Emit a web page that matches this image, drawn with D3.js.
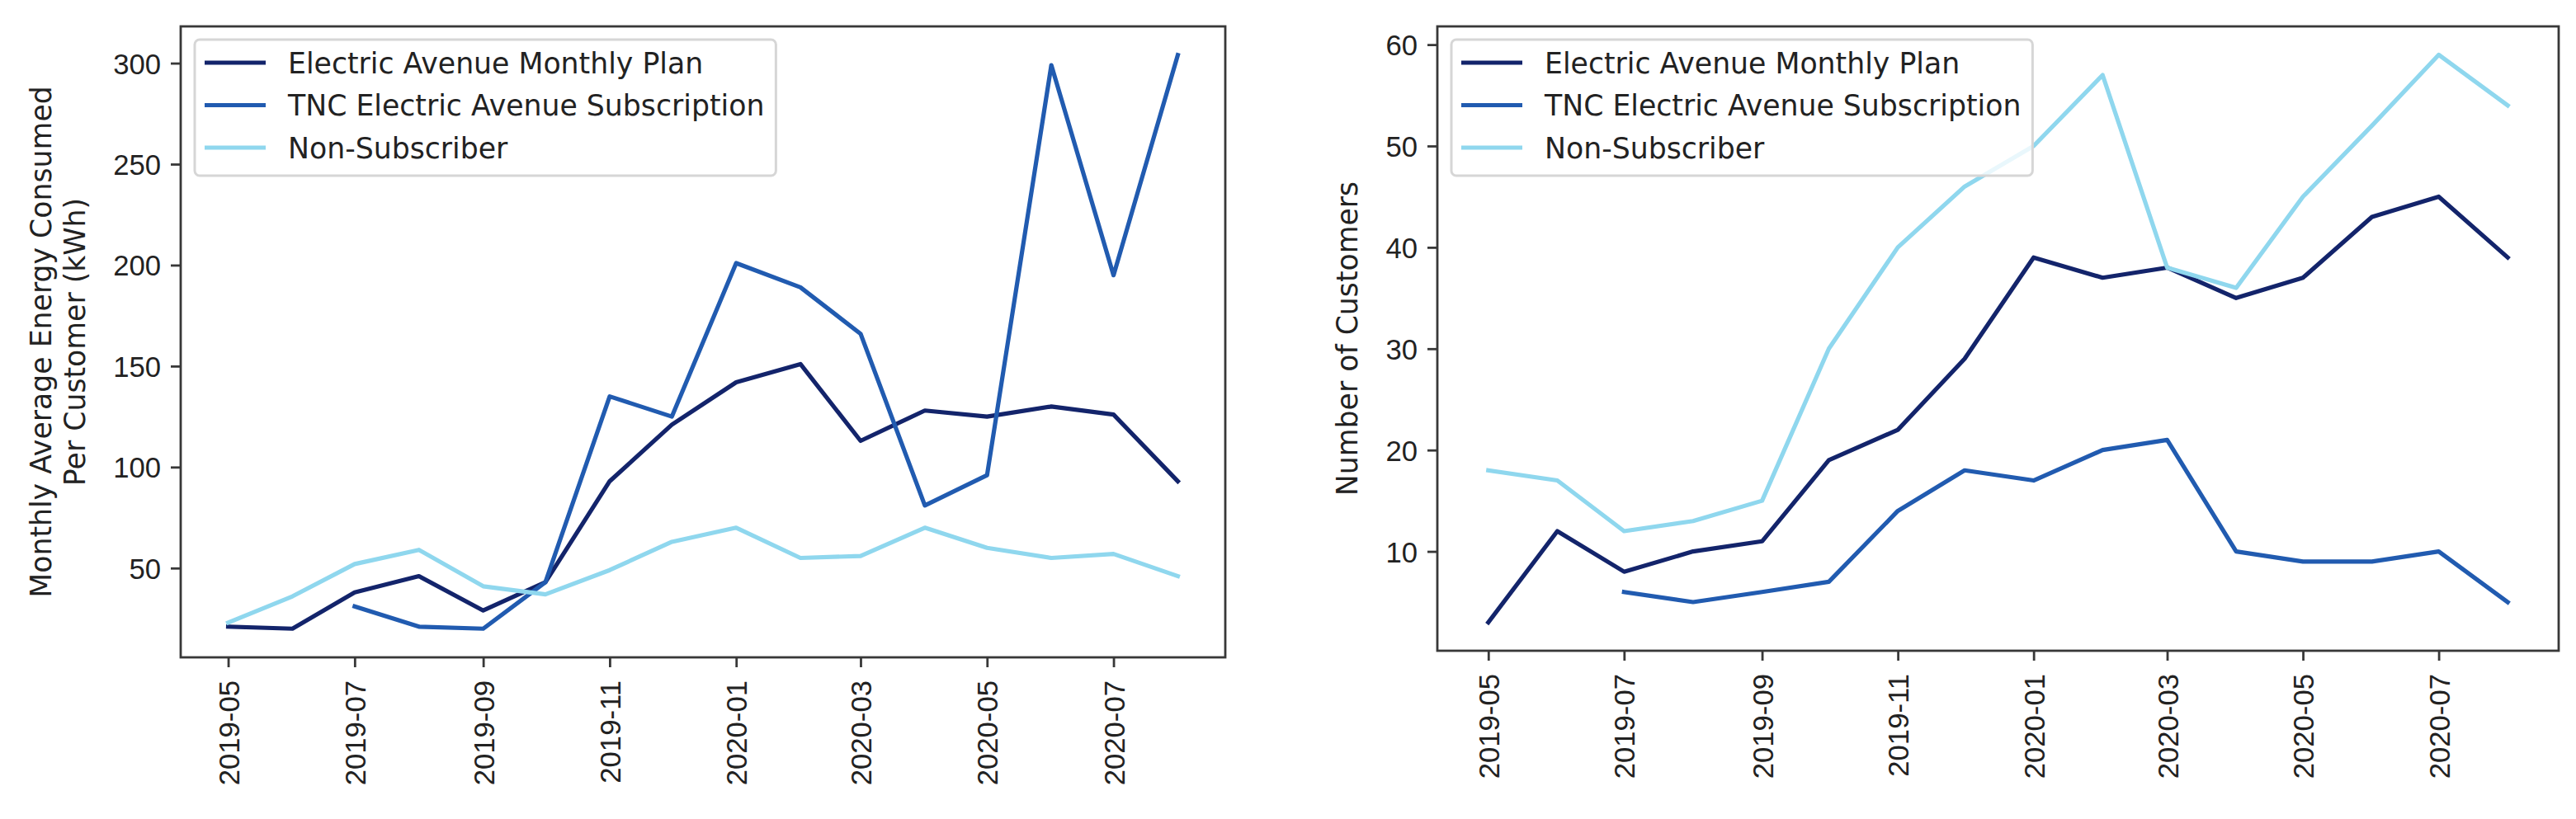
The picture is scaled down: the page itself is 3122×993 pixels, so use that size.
<!DOCTYPE html>
<html>
<head>
<meta charset="utf-8">
<script src="https://cdn.jsdelivr.net/npm/d3@7"></script>
<style>
  html, body { margin: 0; padding: 0; background: #fff; }
  svg { display: block; font-family: "DejaVu Sans", sans-serif; }
</style>
</head>
<body>
<div id="chart"></div>
<script>
// months on the x axis (one point per month)
const months = [
  "2019-05", "2019-06", "2019-07", "2019-08", "2019-09", "2019-10", "2019-11", "2019-12",
  "2020-01", "2020-02", "2020-03", "2020-04", "2020-05", "2020-06", "2020-07", "2020-08",
];
const xTickMonths = ["2019-05", "2019-07", "2019-09", "2019-11", "2020-01", "2020-03", "2020-05", "2020-07"];

const seriesNames = [
  "Electric Avenue Monthly Plan",
  "TNC Electric Avenue Subscription",
  "Non-Subscriber",
];
const seriesColors = ["#13246b", "#215bb0", "#8fd7ee"];

// left panel: monthly average energy per customer (kWh)
const energyMonthlyPlan = [21, 20, 38, 46, 29, 43, 93, 121, 142, 151, 113, 128, 125, 130, 126, 93];
const energyTnc = [null, null, 31, 21, 20, 43, 135, 125, 201, 189, 166, 81, 96, 299, 195, 304];
const energyNonSubscriber = [23, 36, 52, 59, 41, 37, 49, 63, 70, 55, 56, 70, 60, 55, 57, 46];
const energyTicks = [50, 100, 150, 200, 250, 300];

// right panel: number of customers
const customersMonthlyPlan = [3, 12, 8, 10, 11, 19, 22, 29, 39, 37, 38, 35, 37, 43, 45, 39];
const customersTnc = [null, null, 6, 5, 6, 7, 14, 18, 17, 20, 21, 10, 9, 9, 10, 5];
const customersNonSubscriber = [18, 17, 12, 13, 15, 30, 40, 46, 50, 57, 38, 36, 45, 52, 59, 54];
const customerTicks = [10, 20, 30, 40, 50, 60];

const FS = 34.7; // 10pt at the figure's dpi
const parseMonth = d3.utcParse("%Y-%m");

class LinePanel {
  constructor({ svg, frame, series, yTicks, yLabel, yLabelX }) {
    this.svg = svg;
    this.frame = frame;
    this.series = series;
    this.yTicks = yTicks;
    this.yLabel = yLabel;
    this.yLabelX = yLabelX;
    this.init();
  }

  init() {
    const { left, right, top, bottom } = this.frame;
    this.dates = months.map(parseMonth);

    // matplotlib style 5% margins on both axes
    const t0 = +this.dates[0];
    const t1 = +this.dates[this.dates.length - 1];
    const tp = (t1 - t0) * 0.05;
    this.x = d3.scaleUtc().domain([t0 - tp, t1 + tp]).range([left, right]);

    const all = this.series.flatMap((s) => s.values.filter((v) => v != null));
    const [v0, v1] = d3.extent(all);
    const vp = (v1 - v0) * 0.05;
    this.y = d3.scaleLinear().domain([v0 - vp, v1 + vp]).range([bottom, top]);

    this.line = d3
      .line()
      .defined((d) => d != null)
      .x((d, i) => this.x(this.dates[i]))
      .y((d) => this.y(d));

    this.g = this.svg.append("g");
    this.render();
  }

  render() {
    this.renderLines();
    this.renderFrame();
    this.renderXAxis();
    this.renderYAxis();
    this.renderLegend();
  }

  renderLines() {
    this.g
      .append("g")
      .selectAll("path")
      .data(this.series)
      .join("path")
      .attr("fill", "none")
      .attr("stroke", (d) => d.color)
      .attr("stroke-width", 5.2)
      .attr("stroke-linejoin", "round")
      .attr("stroke-linecap", "square")
      .attr("d", (d) => this.line(d.values));
  }

  renderFrame() {
    const { left, right, top, bottom } = this.frame;
    this.g
      .append("rect")
      .attr("x", left)
      .attr("y", top)
      .attr("width", right - left)
      .attr("height", bottom - top)
      .attr("fill", "none")
      .attr("stroke", "#383838")
      .attr("stroke-width", 2.8);
  }

  renderXAxis() {
    const gX = this.g
      .append("g")
      .attr("transform", `translate(0,${this.frame.bottom})`)
      .call(
        d3
          .axisBottom(this.x)
          .tickValues(xTickMonths.map(parseMonth))
          .tickFormat(d3.utcFormat("%Y-%m"))
          .tickSize(12)
          .tickPadding(12)
      );
    gX.select(".domain").remove();
    gX.selectAll(".tick line").attr("stroke", "#383838").attr("stroke-width", 2.8);
    gX.selectAll(".tick text")
      .attr("fill", "#222")
      .attr("font-size", FS)
      .attr("text-anchor", "end")
      .attr("transform", "rotate(-90)")
      .attr("x", -28)
      .attr("y", 0)
      .attr("dy", "0.36em");
  }

  renderYAxis() {
    const gY = this.g
      .append("g")
      .attr("transform", `translate(${this.frame.left},0)`)
      .call(d3.axisLeft(this.y).tickValues(this.yTicks).tickSize(12).tickPadding(12));
    gY.select(".domain").remove();
    gY.selectAll(".tick line").attr("stroke", "#383838").attr("stroke-width", 2.8);
    gY.selectAll(".tick text").attr("fill", "#222").attr("font-size", FS).attr("dy", "0.36em");

    const yc = (this.frame.top + this.frame.bottom) / 2;
    this.g
      .append("text")
      .attr("fill", "#222")
      .attr("font-size", FS)
      .attr("text-anchor", "middle")
      .attr("transform", `translate(${this.yLabelX},${yc}) rotate(-90)`)
      .selectAll("tspan")
      .data(this.yLabel)
      .join("tspan")
      .attr("x", 0)
      .attr("y", (d, i) => (i - (this.yLabel.length - 1)) * 41)
      .text((d) => d);
  }

  renderLegend() {
    const rowH = 51.5;
    const gL = this.g
      .append("g")
      .attr("transform", `translate(${this.frame.left + 17},${this.frame.top + 16})`);
    const box = gL
      .append("rect")
      .attr("rx", 6)
      .attr("fill", "#fff")
      .attr("fill-opacity", 0.8)
      .attr("stroke", "#d6d6d6")
      .attr("stroke-width", 3);

    const item = gL
      .selectAll("g")
      .data(this.series)
      .join("g")
      .attr("transform", (d, i) => `translate(0,${28 + i * rowH})`);
    item
      .append("line")
      .attr("x1", 12)
      .attr("x2", 86)
      .attr("stroke", (d) => d.color)
      .attr("stroke-width", 5.2);
    item
      .append("text")
      .attr("x", 113)
      .attr("dy", "0.36em")
      .attr("fill", "#222")
      .attr("font-size", FS)
      .text((d) => d.name);

    let maxW = 0;
    item.select("text").each(function () {
      maxW = Math.max(maxW, this.getComputedTextLength());
    });
    box.attr("width", 113 + maxW + 14).attr("height", 165);
  }
}

const svg = d3
  .select("#chart")
  .append("svg")
  .attr("width", 3122)
  .attr("height", 993)
  .attr("viewBox", [0, 0, 3122, 993]);

new LinePanel({
  svg,
  frame: { left: 219, right: 1485, top: 32, bottom: 797 },
  series: [energyMonthlyPlan, energyTnc, energyNonSubscriber].map((values, i) => ({
    name: seriesNames[i],
    color: seriesColors[i],
    values,
  })),
  yTicks: energyTicks,
  yLabel: ["Monthly Average Energy Consumed", "Per Customer (kWh)"],
  yLabelX: 103,
});

new LinePanel({
  svg,
  frame: { left: 1742, right: 3101, top: 32, bottom: 789 },
  series: [customersMonthlyPlan, customersTnc, customersNonSubscriber].map((values, i) => ({
    name: seriesNames[i],
    color: seriesColors[i],
    values,
  })),
  yTicks: customerTicks,
  yLabel: ["Number of Customers"],
  yLabelX: 1645,
});
</script>
</body>
</html>
